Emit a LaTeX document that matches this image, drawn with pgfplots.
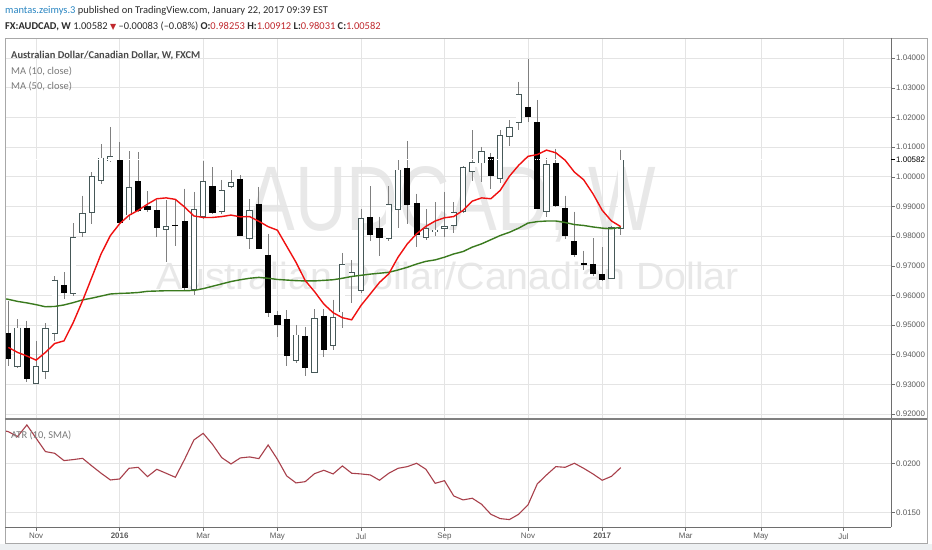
\documentclass[border=0pt]{standalone}
\usepackage{fontspec}
\setmainfont{Carlito}
\newfontfamily\axisfont{Liberation Sans}
\newfontfamily\symfont{DejaVu Sans}
\newfontfamily\wmfont{Liberation Sans}
\usepackage{pgfplots}
\pgfplotsset{compat=1.18}
\usepackage{pgfplotstable}

\definecolor{tvblue}{HTML}{2A86C2}
\definecolor{tvred}{HTML}{C0282D}
\definecolor{hdr}{HTML}{2B2B2B}
\definecolor{ma10c}{HTML}{F01010}
\definecolor{ma50c}{HTML}{3A7A1E}
\definecolor{atrc}{HTML}{A8404B}
\definecolor{gridc}{HTML}{E4E4E4}
\definecolor{wmc}{HTML}{E8E8E8}
\definecolor{upedge}{HTML}{465858}
\definecolor{wick}{HTML}{808080}
\definecolor{axisc}{HTML}{6E6E6E}
\definecolor{labc}{HTML}{5C5C5C}
\definecolor{framec}{HTML}{A8A8A8}
\definecolor{stripc}{HTML}{EDF0F2}

% weekly candles, AUDCAD (i = week index)
\pgfplotstableread{
i O H L C
1 0.9475 0.9582 0.9363 0.9385
2 0.9360 0.9520 0.9357 0.9492
3 0.9492 0.9515 0.9309 0.9318
4 0.9303 0.9447 0.9301 0.9363
5 0.9342 0.9506 0.9318 0.9490
6 0.9470 0.9664 0.9447 0.9653
7 0.9636 0.9678 0.9588 0.9607
8 0.9605 0.9844 0.9599 0.9797
9 0.9811 0.9937 0.9797 0.9878
10 0.9879 1.0016 0.9842 1.0002
11 0.9985 1.0109 0.9977 1.0065
12 1.0052 1.0168 1.0050 1.0070
13 1.0058 1.0118 0.9843 0.9845
14 0.9870 1.0086 0.9853 0.9966
15 0.9985 1.0084 0.9882 0.9884
16 0.9903 0.9952 0.9881 0.9889
17 0.9887 0.9921 0.9797 0.9827
18 0.9821 0.9921 0.9714 0.9833
19 0.9838 0.9921 0.9766 0.9833
20 0.9851 0.9960 0.9616 0.9624
21 0.9618 0.9949 0.9602 0.9892
22 0.9864 1.0054 0.9859 0.9986
23 0.9968 1.0033 0.9876 0.9878
24 0.9881 0.9990 0.9875 0.9954
25 0.9966 1.0022 0.9963 0.9983
26 0.9993 1.0005 0.9800 0.9802
27 0.9791 0.9926 0.9757 0.9889
28 0.9909 0.9966 0.9755 0.9757
29 0.9738 0.9808 0.9528 0.9540
30 0.9534 0.9549 0.9459 0.9501
31 0.9520 0.9551 0.9363 0.9396
32 0.9379 0.9501 0.9374 0.9468
33 0.9464 0.9494 0.9327 0.9354
34 0.9340 0.9554 0.9338 0.9524
35 0.9532 0.9554 0.9393 0.9417
36 0.9430 0.9586 0.9416 0.9528
37 0.9543 0.9744 0.9492 0.9706
38 0.9661 0.9718 0.9573 0.9678
39 0.9616 0.9892 0.9607 0.9861
40 0.9863 0.9969 0.9785 0.9804
41 0.9827 0.9866 0.9732 0.9793
42 0.9791 0.9969 0.9785 0.9909
43 0.9889 1.0056 0.9827 1.0024
44 1.0030 1.0121 0.9842 0.9906
45 0.9911 0.9943 0.9763 0.9804
46 0.9794 0.9890 0.9788 0.9828
47 0.9813 0.9915 0.9799 0.9822
48 0.9825 0.9949 0.9797 0.9835
49 0.9834 0.9915 0.9811 0.9881
50 0.9881 1.0036 0.9879 1.0033
51 1.0016 1.0157 0.9985 1.0049
52 1.0045 1.0101 0.9983 1.0086
53 1.0067 1.0081 0.9960 1.0002
54 0.9993 1.0157 0.9980 1.0140
55 1.0135 1.0191 1.0103 1.0168
56 1.0182 1.0321 1.0159 1.0278
57 1.0236 1.0396 1.0185 1.0202
58 1.0184 1.0259 0.9890 0.9892
59 0.9883 1.0065 0.9864 1.0042
60 1.0045 1.0095 0.9898 0.9900
61 0.9895 0.9937 0.9791 0.9802
62 0.9782 0.9883 0.9729 0.9735
63 0.9710 0.9751 0.9686 0.9704
64 0.9706 0.9793 0.9667 0.9673
65 0.9673 0.9763 0.9650 0.9652
66 0.9656 0.9835 0.9654 0.9830
67 0.98253 1.00912 0.98031 1.00582
}\ohlc

\pgfplotstableread{
i v
1 0.9425
2 0.9408
3 0.9396
4 0.9382
5 0.9408
6 0.9438
7 0.9447
8 0.9509
9 0.9582
10 0.9661
11 0.9740
12 0.9802
13 0.9842
14 0.9870
15 0.9887
16 0.9908
17 0.9926
18 0.9929
19 0.9924
20 0.9898
21 0.9868
22 0.9863
23 0.9863
24 0.9866
25 0.9871
26 0.9865
27 0.9866
28 0.9850
29 0.9832
30 0.9820
31 0.9766
32 0.9712
33 0.9650
34 0.9613
35 0.9571
36 0.9542
37 0.9525
38 0.9518
39 0.9566
40 0.9605
41 0.9644
42 0.9673
43 0.9729
44 0.9774
45 0.9808
46 0.9833
47 0.9851
48 0.9862
49 0.9866
50 0.9887
51 0.9918
52 0.9929
53 0.9926
54 0.9954
55 1.0002
56 1.0039
57 1.0069
58 1.0075
59 1.0090
60 1.0081
61 1.0056
62 1.0016
63 0.9990
64 0.9943
65 0.9887
66 0.9851
67 0.9832
}\maten

\pgfplotstableread{
i v
0 0.9592
1 0.9587
2 0.9580
3 0.9575
4 0.9569
5 0.9562
6 0.9563
7 0.9568
8 0.9576
9 0.9585
10 0.9591
11 0.9598
12 0.9605
13 0.9607
14 0.9608
15 0.9610
16 0.9614
17 0.9615
18 0.9616
19 0.9616
20 0.9616
21 0.9617
22 0.9623
23 0.9631
24 0.9639
25 0.9647
26 0.9653
27 0.9658
28 0.9661
29 0.9658
30 0.9654
31 0.9652
32 0.9650
33 0.9649
34 0.9649
35 0.9651
36 0.9653
37 0.9658
38 0.9664
39 0.9668
40 0.9672
41 0.9675
42 0.9678
43 0.9686
44 0.9695
45 0.9706
46 0.9715
47 0.9720
48 0.9729
49 0.9740
50 0.9748
51 0.9763
52 0.9774
53 0.9788
54 0.9802
55 0.9813
56 0.9827
57 0.9844
58 0.9849
59 0.9851
60 0.9851
61 0.9846
62 0.9839
63 0.9836
64 0.9831
65 0.9827
66 0.9825
67 0.9830
}\mafifty

\pgfplotstableread{
i v
0 0.02340
1 0.02320
2 0.02270
3 0.02388
4 0.02253
5 0.02118
6 0.02101
7 0.02027
8 0.02037
9 0.02050
10 0.01973
11 0.01899
12 0.01831
13 0.01841
14 0.01949
15 0.01959
16 0.01865
17 0.01939
18 0.01899
19 0.01858
20 0.02040
21 0.02236
22 0.02303
23 0.02192
24 0.02057
25 0.01993
26 0.02054
27 0.02064
28 0.02047
29 0.02185
30 0.02040
31 0.01872
32 0.01801
33 0.01814
34 0.01895
35 0.01929
36 0.01892
37 0.01973
38 0.01899
39 0.01892
40 0.01882
41 0.01828
42 0.01899
43 0.01949
44 0.01966
45 0.02000
46 0.01939
47 0.01797
48 0.01824
49 0.01669
50 0.01629
51 0.01646
52 0.01585
53 0.01484
54 0.01440
55 0.01430
56 0.01484
57 0.01578
58 0.01791
59 0.01882
60 0.01966
61 0.01959
62 0.02000
63 0.01949
64 0.01892
65 0.01828
66 0.01868
67 0.01956
}\atr

% prices are plotted relative to 0.98 (the tick labels give the real price)
\newcommand{\pbase}{0.98}

\pgfplotsset{
  tvaxis/.style={
    scale only axis, width=886bp,
    xmin=0.644, xmax=96.12,
    axis line style={draw=none},
    grid=major, major grid style={draw=gridc, line width=0.7bp},
    tick align=outside, major tick length=3.5bp,
    ytick pos=right, yticklabel pos=right,
    ytick style={draw=axisc, line width=0.6bp},
    tick label style={font=\axisfont\fontsize{8}{9}\selectfont, text=labc},
    yticklabel style={inner sep=1.5bp},
    scaled ticks=false,
    /pgf/number format/assume math mode=true,
    /pgf/number format/fixed,
    /pgf/number format/fixed zerofill,
    xtick={4,13,22,30,39,48,57,65,74,82.1,91},
  },
  % error bars draw wicks and bodies
  bar/.style 2 args={draw=none, mark=none, forget plot,
    error bars/y dir=minus, error bars/y explicit, error bars/error mark=none,
    error bars/error bar style={draw=#1, line width=#2}},
  up only/.style={x filter/.expression={\thisrow{C}<\thisrow{O} ? nan : x}},
  down only/.style={x filter/.expression={\thisrow{C}<\thisrow{O} ? x : nan}},
}

\begin{document}
\begin{tikzpicture}[x=1bp,y=1bp]
\useasboundingbox (0,0) rectangle (932,550);
\fill[white] (0,0) rectangle (932,550);
\fill[stripc] (0,0) rectangle (932,6);

% watermark
\node[text=wmc, font=\wmfont\fontsize{92}{92}\selectfont, xscale=0.78, anchor=base, inner sep=0] at (452,319) {AUDCAD, W};
\node[text=wmc, font=\wmfont\fontsize{38}{38}\selectfont, xscale=1.04, anchor=base, inner sep=0] at (448,260) {Australian Dollar/Canadian Dollar};

% price pane
\begin{axis}[tvaxis, at={(5bp,131bp)}, anchor=south west, height=381bp,
  ymin=-0.06164, ymax=0.0668,
  ytick={-0.06,-0.05,-0.04,-0.03,-0.02,-0.01,0,0.01,0.02,0.03,0.04,0.05,0.06},
  yticklabels={0.92000,0.93000,0.94000,0.95000,0.96000,0.97000,0.98000,0.99000,1.00000,1.01000,1.02000,1.03000,1.04000},
  xticklabels={}, xtick style={draw=none},
]
% wicks
\addplot[bar={wick}{0.8bp}] table[x=i, y expr=\thisrow{H}-\pbase,
  y error minus expr=\thisrow{H}-\thisrow{L}] {\ohlc};
% down candles
\addplot[down only, bar={black}{6.2bp}] table[x=i, y expr=\thisrow{O}-\pbase,
  y error minus expr={max(\thisrow{O}-\thisrow{C},0.0003)}] {\ohlc};
% up candles: dark outline, white inside
\addplot[up only, bar={upedge}{6.2bp}] table[x=i, y expr=\thisrow{C}-\pbase,
  y error minus expr={max(\thisrow{C}-\thisrow{O},0.0003)}] {\ohlc};
\addplot[up only, bar={white}{4.6bp}] table[x=i, y expr=\thisrow{C}-\pbase-0.00026,
  y error minus expr={max(\thisrow{C}-\thisrow{O}-0.00052,0)}] {\ohlc};
% last price line
\addplot[draw=white, densely dotted, line width=0.8bp, forget plot] coordinates {(0.644,0.02582) (96.12,0.02582)};
\addplot[ma50c, line width=1.4bp, mark=none] table[x=i, y expr=\thisrow{v}-\pbase] {\mafifty};
\addplot[ma10c, line width=1.4bp, mark=none] table[x=i, y expr=\thisrow{v}-\pbase] {\maten};
\end{axis}

% ATR pane
\begin{axis}[tvaxis, at={(5bp,22.7bp)}, anchor=south west, height=108.3bp,
  ymin=0.01352, ymax=0.02448,
  ytick={0.015,0.02},
  /pgf/number format/precision=4,
  xtick pos=bottom,
  xtick style={draw=axisc, line width=0.6bp},
  xticklabels={Nov,\textbf{2016},Mar,May,Jul,Sep,Nov,\textbf{2017},Mar,May,Jul},
  xticklabel style={yshift=1bp},
]
\addplot[atrc, line width=1.1bp, mark=none] table[x=i, y=v] {\atr};
\end{axis}

% frame
\draw[framec, line width=0.8bp] (5,7) rectangle (927,512);
\draw[axisc, line width=0.9bp] (891,512) -- (891,22.7);
\draw[axisc, line width=0.9bp] (5,22.7) -- (891,22.7);
\draw[black!50, line width=1.4bp] (5,131) -- (927,131);

% last price on the price scale
\draw[black, line width=0.6bp] (891,390.5) -- (894.5,390.5);
\node[anchor=west, inner sep=1.5bp, font=\axisfont\fontsize{8}{9}\selectfont] at (894.5,390.5) {1.00582};

% header
\node[anchor=west, inner sep=0, text=hdr, font=\fontsize{10.5}{12}\selectfont] at (5,539)
  {\textcolor{tvblue}{mantas.zeimys.3} published on TradingView.com, January 22, 2017 09:39 EST};
\node[anchor=west, inner sep=0, text=hdr, font=\fontsize{10.5}{12}\selectfont] at (5,524)
  {\textbf{FX:AUDCAD, W} 1.00582 {\symfont\fontsize{8}{9}\selectfont\textcolor{tvred}{▼}} –0.00083 (–0.08\%) \textbf{O:}\textcolor{tvred}{0.98253} \textbf{H:}\textcolor{tvred}{1.00912} \textbf{L:}\textcolor{tvred}{0.98031} \textbf{C:}\textcolor{tvred}{1.00582}};

% pane legends
\node[anchor=west, inner sep=0, text=black!72, font=\fontsize{10.5}{12}\selectfont\bfseries] at (11,494) {Australian Dollar/Canadian Dollar, W, FXCM};
\node[anchor=west, inner sep=0, text=black!52, font=\fontsize{10.5}{12}\selectfont] at (11,479) {MA (10, close)};
\node[anchor=west, inner sep=0, text=black!52, font=\fontsize{10.5}{12}\selectfont] at (11,464) {MA (50, close)};
\node[anchor=west, inner sep=0, text=black!52, font=\fontsize{10.5}{12}\selectfont] at (11,115) {ATR (10, SMA)};
\end{tikzpicture}
\end{document}
